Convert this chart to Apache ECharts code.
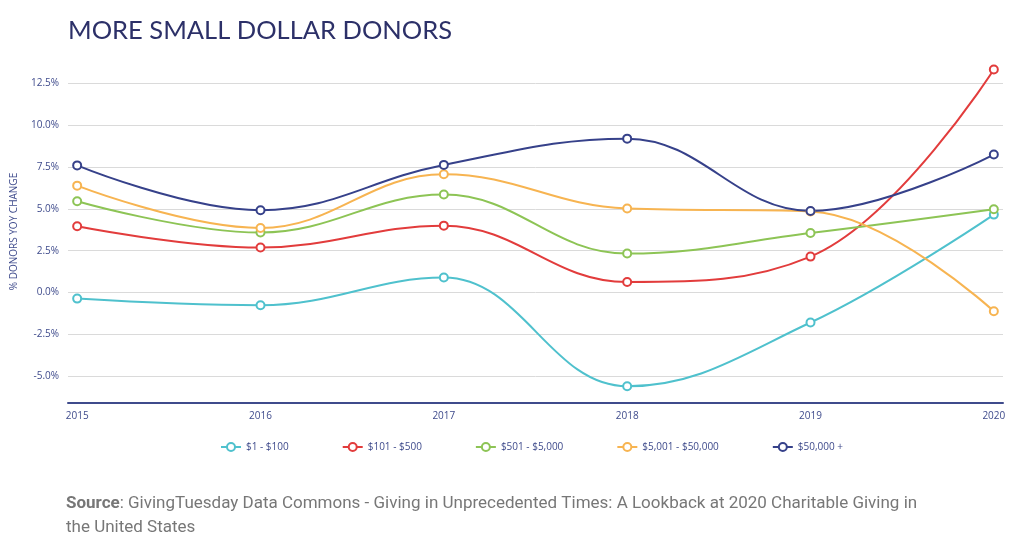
<!DOCTYPE html>
<html>
<head>
<meta charset="utf-8">
<style>
html,body{margin:0;padding:0;background:#fff;}
#chart{width:1024px;height:544px;}
</style>
<script src="https://cdn.jsdelivr.net/npm/echarts@6/dist/echarts.min.js"></script>
</head>
<body>
<div id="chart"></div>
<script>
var years = [2015, 2016, 2017, 2018, 2019, 2020];
var seriesNames = ['$1 - $100', '$101 - $500', '$501 - $5,000', '$5,001 - $50,000', '$50,000 +'];
var s1to100 = [-0.36, -0.76, 0.90, -5.60, -1.79, 4.66];
var s101to500 = [3.96, 2.69, 4.00, 0.63, 2.15, 13.33];
var s501to5000 = [5.46, 3.59, 5.86, 2.33, 3.56, 4.98];
var s5001to50000 = [6.39, 3.86, 7.07, 5.02, 4.85, -1.12];
var s50000plus = [7.60, 4.92, 7.63, 9.20, 4.88, 8.25];
var yTicks = [-5, -2.5, 0, 2.5, 5, 7.5, 10, 12.5];
var colors = ['#4fc1cd', '#e23c3c', '#8dc455', '#f7b451', '#36418a'];
var allValues = [s1to100, s101to500, s501to5000, s5001to50000, s50000plus];

var chart = echarts.init(document.getElementById('chart'), null, {renderer: 'canvas'});
var txtColor = '#3f4b8c';
var option = {
  animation: false,
  backgroundColor: '#ffffff',
  title: {
    text: 'MORE SMALL DOLLAR DONORS',
    left: 63, top: 13,
    textStyle: {fontFamily: 'Lato', fontWeight: 'normal', fontSize: 25.5, color: '#2c3068'}
  },
  grid: {left: 68, right: 21, top: 60, height: 343, containLabel: false},
  xAxis: {
    type: 'value', min: 2014.95, max: 2020.05,
    axisLine: {show: true, onZero: false, lineStyle: {color: '#3f4b8c', width: 2}},
    axisTick: {show: false, customValues: years},
    splitLine: {show: false},
    axisLabel: {customValues: years, color: txtColor, fontSize: 10, fontFamily: 'Open Sans', margin: 8,
      formatter: function (v) { return String(v); }}
  },
  yAxis: {
    type: 'value', min: -6.6, max: 13.9,
    name: '% DONORS YOY CHANGE', nameLocation: 'middle', nameGap: 49,
    nameTextStyle: {color: txtColor, fontSize: 10, fontFamily: 'Open Sans'},
    axisLine: {show: false},
    axisTick: {show: false, customValues: yTicks},
    splitLine: {show: true, lineStyle: {color: '#dadada', width: 1}},
    axisLabel: {customValues: yTicks, color: txtColor, fontSize: 10, fontFamily: 'Open Sans', margin: 9,
      formatter: function (v) { return v.toFixed(1) + '%'; }}
  },
  legend: {
    top: 437, left: 215, itemGap: 53, itemWidth: 20, itemHeight: 10,
    textStyle: {color: txtColor, fontSize: 10, fontFamily: 'Open Sans'},
    data: seriesNames
  },
  graphic: [{
    type: 'text', left: 66, top: 492,
    style: {
      text: '{b|Source}: GivingTuesday Data Commons - Giving in Unprecedented Times: A Lookback at 2020 Charitable Giving in\nthe United States',
      rich: {b: {fontWeight: 'bold', fontSize: 17, fontFamily: 'Roboto', fill: '#777777'}},
      font: '17px Roboto', fill: '#777777', lineHeight: 24
    }
  }],
  series: seriesNames.map(function (n, i) {
    return {
      name: n, type: 'line', smooth: 0.4,
      data: years.map(function (y, j) { return [y, allValues[i][j]]; }),
      symbol: 'emptyCircle', symbolSize: 8,
      lineStyle: {color: colors[i], width: 2},
      itemStyle: {color: colors[i], borderColor: colors[i], borderWidth: 2}
    };
  })
};
chart.setOption(option);
</script>
</body>
</html>
